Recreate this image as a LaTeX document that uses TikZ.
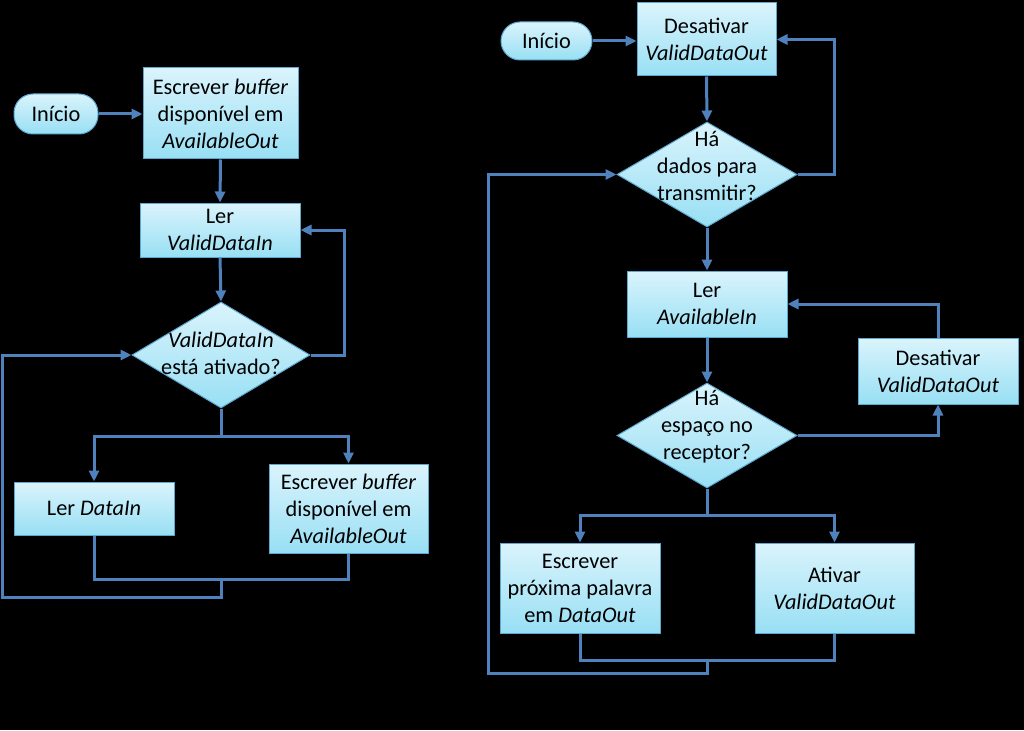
\documentclass[tikz,border=0pt]{standalone}
\usepackage{fontspec}
\setmainfont{Carlito}
\usetikzlibrary{shapes.geometric,arrows.meta}
\definecolor{flowblue}{HTML}{4F81BD}
\definecolor{ftop}{HTML}{DAF4FC}
\definecolor{fbot}{HTML}{98DFF4}
\definecolor{bd}{HTML}{5EA8D0}
\tikzset{
  txt/.style={font=\fontsize{22.3}{27}\selectfont, align=center, text=black, inner sep=0pt},
  box/.style={txt, rectangle, draw=bd, line width=1pt, top color=ftop, bottom color=fbot},
  pill/.style={box, rounded corners=19pt},
  dia/.style={diamond, draw=bd, line width=1pt, top color=ftop, bottom color=fbot, inner sep=0pt},
  conn/.style={draw=flowblue, line width=3pt},
  arr/.style={conn, -{Triangle[length=11pt,width=10pt]}},
}
\begin{document}
\begin{tikzpicture}[x=1pt,y=-1pt]
\fill[black] (0,0) rectangle (1024,730);
\useasboundingbox (0,0) rectangle (1024,730);
% ---------- left flow ----------
\node[pill, minimum width=84pt, minimum height=40pt] (p1) at (56,114) {Início};
\node[box, minimum width=155pt, minimum height=91pt] (b1) at (220.5,113.5) {Escrever \textit{buffer}\\disponível em\\\textit{AvailableOut}};
\node[box, minimum width=160pt, minimum height=54pt] (b2) at (220,230) {Ler\\\textit{ValidDataIn}};
\node[dia, minimum width=178pt, minimum height=106pt] (d1) at (221,355) {};
\node[txt] (t1) at (221,353.5) {\textit{ValidDataIn}\\está ativado?};
\node[box, minimum width=160pt, minimum height=53pt] (b3) at (94,508.5) {Ler \textit{DataIn}};
\node[box, minimum width=159pt, minimum height=89pt] (b4) at (348.5,508.5) {Escrever \textit{buffer}\\disponível em\\\textit{AvailableOut}};

\draw[arr] (p1.east) -- (p1.east -| b1.west);
\draw[arr] (b1.south) -- (b2.north);
\draw[arr] (b2.south) -- (d1.north);
\coordinate (r1) at (344,355);
\draw[arr] (d1.east) -- (r1) |- (b2.east);
\coordinate (s1) at (221,436);
\draw[conn] (d1.south) -- (s1);
\draw[arr] (s1) -| (b3.north);
\draw[arr] (s1) -| (b4.north);
\coordinate (j1) at (221,579);
\coordinate (j1b) at (221,597);
\coordinate (l1) at (2,597);
\draw[conn] (b3.south) |- (j1) -| (b4.south);
\draw[arr] (j1) -- (j1b) -- (l1) |- (d1.west);

% ---------- right flow ----------
\node[pill, minimum width=91pt, minimum height=38pt] (p2) at (546.5,41) {Início};
\node[box, minimum width=139pt, minimum height=73pt] (b5) at (706.5,39.5) {Desativar\\\textit{ValidDataOut}};
\node[dia, minimum width=180pt, minimum height=105pt] (d2) at (707,174.5) {};
\node[txt] (t2) at (707,165.5) {Há\\dados para\\transmitir?};
\node[box, minimum width=160pt, minimum height=66pt] (b6) at (707,304) {Ler\\\textit{AvailableIn}};
\node[dia, minimum width=180pt, minimum height=105pt] (d3) at (707,435.5) {};
\node[txt] (t3) at (707,427) {Há\\espaço no\\receptor?};
\node[box, minimum width=160pt, minimum height=66pt] (b7) at (938,371) {Desativar\\\textit{ValidDataOut}};
\node[box, minimum width=160pt, minimum height=90pt] (b8) at (580,588) {Escrever\\próxima palavra\\em \textit{DataOut}};
\node[box, minimum width=159pt, minimum height=90pt] (b9) at (834.5,588) {Ativar\\\textit{ValidDataOut}};

\draw[arr] (p2.east) -- (p2.east -| b5.west);
\draw[arr] (b5.south) -- (d2.north);
\coordinate (r2) at (834,174.5);
\draw[arr] (d2.east) -- (r2) |- (b5.east);
\draw[arr] (d2.south) -- (b6.north);
\draw[arr] (b6.south) -- (d3.north);
\draw[arr] (d3.east) -| (b7.south);
\draw[arr] (b7.north) |- (b6.east);
\coordinate (s2) at (707,515);
\draw[conn] (d3.south) -- (s2);
\draw[arr] (s2) -| (b8.north);
\draw[arr] (s2) -| (b9.north);
\coordinate (j2) at (707,660);
\coordinate (j2b) at (707,673);
\coordinate (l2) at (488,673);
\draw[conn] (b8.south) |- (j2) -| (b9.south);
\draw[arr] (j2) -- (j2b) -- (l2) |- (d2.west);
\end{tikzpicture}
\end{document}
